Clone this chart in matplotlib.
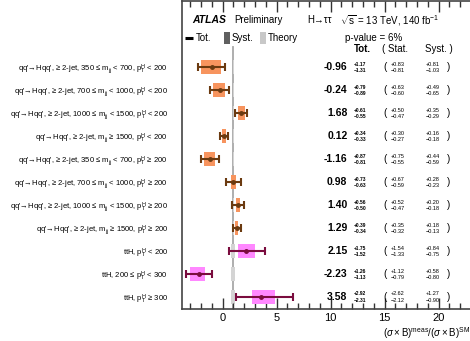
import numpy as np
import matplotlib
matplotlib.use('Agg')
import matplotlib.pyplot as plt

plt.rcParams['font.family'] = ['Liberation Sans', 'DejaVu Sans']
plt.rcParams['mathtext.fontset'] = 'custom'
plt.rcParams['mathtext.rm'] = 'Liberation Sans'
plt.rcParams['mathtext.it'] = 'Liberation Sans:italic'
plt.rcParams['mathtext.bf'] = 'Liberation Sans:bold'

#Input data (top to bottom)
labels = [
    r"qq'→Hqq', ≥ 2-jet, 350 ≤ m$_{\rm jj}$ < 700, p$_{\rm T}^{\rm H}$ < 200",
    r"qq'→Hqq', ≥ 2-jet, 700 ≤ m$_{\rm jj}$ < 1000, p$_{\rm T}^{\rm H}$ < 200",
    r"qq'→Hqq', ≥ 2-jet, 1000 ≤ m$_{\rm jj}$ < 1500, p$_{\rm T}^{\rm H}$ < 200",
    r"qq'→Hqq', ≥ 2-jet, m$_{\rm jj}$ ≥ 1500, p$_{\rm T}^{\rm H}$ < 200",
    r"qq'→Hqq', ≥ 2-jet, 350 ≤ m$_{\rm jj}$ < 700, p$_{\rm T}^{\rm H}$ ≥ 200",
    r"qq'→Hqq', ≥ 2-jet, 700 ≤ m$_{\rm jj}$ < 1000, p$_{\rm T}^{\rm H}$ ≥ 200",
    r"qq'→Hqq', ≥ 2-jet, 1000 ≤ m$_{\rm jj}$ < 1500, p$_{\rm T}^{\rm H}$ ≥ 200",
    r"qq'→Hqq', ≥ 2-jet, m$_{\rm jj}$ ≥ 1500, p$_{\rm T}^{\rm H}$ ≥ 200",
    r"ttH, p$_{\rm T}^{\rm H}$ < 200",
    r"ttH, 200 ≤ p$_{\rm T}^{\rm H}$ < 300",
    r"ttH, p$_{\rm T}^{\rm H}$ ≥ 300",
]
mu       = np.array([-0.96, -0.24, 1.68, 0.12, -1.16, 0.98, 1.40, 1.29, 2.15, -2.23, 3.58])
tot_up   = np.array([1.17, 0.79, 0.61, 0.34, 0.87, 0.73, 0.56, 0.39, 1.75, 1.26, 2.92])
tot_dn   = np.array([1.31, 0.89, 0.55, 0.33, 0.81, 0.63, 0.50, 0.34, 1.52, 1.13, 2.31])
stat_up  = np.array([0.83, 0.63, 0.50, 0.30, 0.75, 0.67, 0.52, 0.35, 1.54, 1.12, 2.62])
stat_dn  = np.array([0.81, 0.60, 0.47, 0.27, 0.55, 0.59, 0.47, 0.32, 1.33, 0.79, 2.12])
syst_up  = np.array([0.81, 0.49, 0.35, 0.16, 0.44, 0.28, 0.20, 0.18, 0.84, 0.58, 1.27])
syst_dn  = np.array([1.03, 0.65, 0.29, 0.18, 0.59, 0.23, 0.18, 0.13, 0.75, 0.80, 0.90])
theo     = np.array([0.03, 0.03, 0.03, 0.03, 0.03, 0.03, 0.03, 0.03, 0.18, 0.18, 0.18])
is_tth   = np.array([0, 0, 0, 0, 0, 0, 0, 0, 1, 1, 1], dtype=bool)

n = len(mu)
ypos = np.arange(n, 0, -1)  #top row highest

fig = plt.figure(figsize=(4.70, 3.41), dpi=100)
ax = fig.add_axes([0.387, 0.094, 0.613, 0.903])

#SM line and theory bands
ax.plot([1, 1], [0.48, 11.87], color='#a8a8a8', lw=1.3, zorder=1)
ax.barh(ypos, 2*theo, left=1-theo, height=0.6, color='#d4d4d4', zorder=1.5)

#syst boxes
box_col = np.where(is_tth, '#ff88ff', '#f7945e')
bar_col = np.where(is_tth, '#7a0c3e', '#6b3a10')
ax.barh(ypos, syst_up+syst_dn, left=mu-syst_dn, height=0.6, color=box_col, zorder=2)
for i in range(n):
    ax.errorbar(mu[i], ypos[i], xerr=[[tot_dn[i]], [tot_up[i]]], fmt='o', ms=2.5,
                color=bar_col[i], elinewidth=1.5, capsize=2.8, capthick=1.5, zorder=3)

#numbers on the right
for i in range(n):
    y = ypos[i]
    ax.text(11.55, y, '%.2f' % mu[i], ha='right', va='center', fontsize=7.5, fontweight='bold')
    ax.text(12.15, y+0.13, '+%.2f' % tot_up[i], ha='left', va='center', fontsize=3.6, fontweight='bold')
    ax.text(12.15, y-0.17, '−%.2f' % tot_dn[i], ha='left', va='center', fontsize=3.6, fontweight='bold')
    ax.text(14.9, y, '(', ha='left', va='center', fontsize=7)
    ax.text(15.6, y+0.13, '+%.2f' % stat_up[i], ha='left', va='center', fontsize=4)
    ax.text(15.6, y-0.17, '−%.2f' % stat_dn[i], ha='left', va='center', fontsize=4)
    ax.text(18.8, y+0.13, '+%.2f' % syst_up[i], ha='left', va='center', fontsize=4)
    ax.text(18.8, y-0.17, '−%.2f' % syst_dn[i], ha='left', va='center', fontsize=4)
    ax.text(20.8, y, ')', ha='left', va='center', fontsize=7)

#header
ax.text(-2.8, 13.04, 'ATLAS', fontsize=7.5, fontweight='bold', style='italic', va='center')
ax.text(1.05, 13.04, 'Preliminary', fontsize=7, va='center')
ax.text(7.8, 13.04, r'H→ττ', fontsize=7, va='center')
ax.text(10.85, 13.04, r'$\sqrt{\rm s}$ = 13 TeV, 140 fb$^{-1}$', fontsize=7, va='center')

#legend
ax.plot([-3.45, -2.7], [12.26, 12.26], color='black', lw=2.2, solid_capstyle='butt', clip_on=False)
ax.text(-2.5, 12.26, 'Tot.', fontsize=7, va='center')
ax.bar(0.4, 0.55, bottom=11.98, width=0.6, color='#606060')
ax.text(0.85, 12.26, 'Syst.', fontsize=7, va='center')
ax.bar(3.75, 0.55, bottom=11.98, width=0.6, color='#c8c8c8')
ax.text(4.2, 12.26, 'Theory', fontsize=7, va='center')
ax.text(11.3, 12.26, 'p-value = 6%', fontsize=7, va='center')
ax.text(12.15, 11.78, 'Tot.', fontsize=7, fontweight='bold', va='center')
ax.text(14.8, 11.78, '( Stat.', fontsize=7, va='center')
ax.text(18.7, 11.78, 'Syst. )', fontsize=7, va='center')

ax.set_xlim(-3.77, 22.9)
ax.set_ylim(0.48, 13.87)
ax.set_yticks(ypos)
ax.set_yticklabels(labels, fontsize=5.5)
ax.tick_params(axis='y', length=0, pad=10)
ax.set_xticks([0, 5, 10, 15, 20])
ax.set_xticks(np.arange(-3, 23, 1), minor=True)
ax.tick_params(axis='x', which='both', direction='in', top=True, labelsize=8, pad=3, color='#333333')
ax.tick_params(axis='x', which='major', length=8, width=1)
ax.tick_params(axis='x', which='minor', length=4, width=1)
ax.spines['right'].set_visible(False)
for s in ['left', 'bottom', 'top']:
    ax.spines[s].set_linewidth(1.2)
    ax.spines[s].set_color('#444444')

fig.text(1.0, 0.0, r'$(\sigma\times{\rm B})^{\rm meas}/(\sigma\times{\rm B})^{\rm SM}$',
         ha='right', va='bottom', fontsize=7)

plt.savefig('out.png', dpi=100)
